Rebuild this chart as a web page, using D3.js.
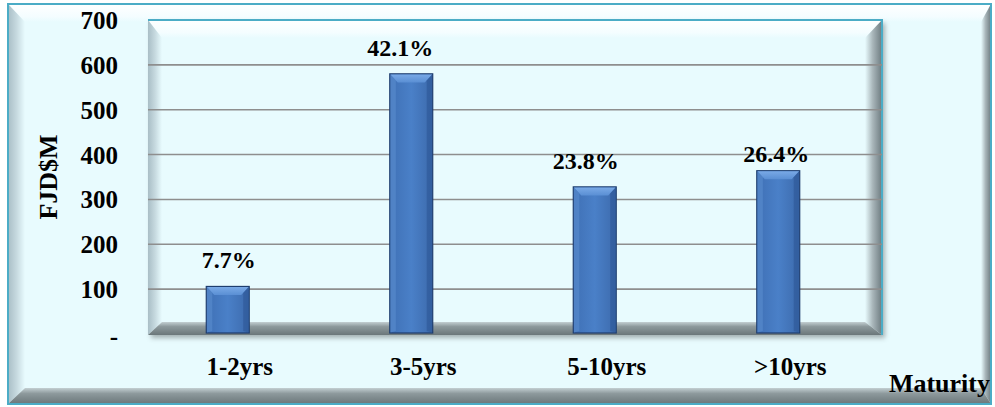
<!DOCTYPE html>
<html><head><meta charset="utf-8">
<script src="https://cdn.jsdelivr.net/npm/d3@7"></script>
<style>html,body{margin:0;padding:0;background:#fff;}svg{display:block;}</style>
</head><body>
<script>
const categories = ["1-2yrs", "3-5yrs", "5-10yrs", ">10yrs"];
const values = [106, 580, 328, 364];
const shares = ["7.7%", "42.1%", "23.8%", "26.4%"];
const yTicks = [0, 100, 200, 300, 400, 500, 600, 700];
const yTickLabels = ["-", "100", "200", "300", "400", "500", "600", "700"];
const yTitle = "FJD$M";
const xTitle = "Maturity";

const W = 995, H = 407;
const bg = "#e8fbfe", teal = "#4bacc6";
const svg = d3.select("body").append("svg").attr("width", W).attr("height", H);
const defs = svg.append("defs");

function lg(id, x1, y1, x2, y2, stops) {
  const g = defs.append("linearGradient").attr("id", id)
    .attr("x1", x1).attr("y1", y1).attr("x2", x2).attr("y2", y2);
  stops.forEach(s => g.append("stop").attr("offset", s[0]).attr("stop-color", s[1]));
}
lg("gTop", 0, 0, 0, 1, [[0, "#ffffff"], [0.7, "#f4fdff"], [1, bg]]);
lg("gLeft", 0, 0, 1, 0, [[0, "#a9bec6"], [0.5, "#c6d9df"], [1, bg]]);
lg("gRight", 0, 0, 1, 0, [[0, bg], [0.45, "#a9b6ba"], [1, "#6d7b80"]]);
lg("gBot", 0, 0, 0, 1, [[0, "#c3cfd2"], [0.35, "#8d999c"], [1, "#6b777a"]]);
lg("gBar", 0, 0, 1, 0, [[0, "#3f70b5"], [0.5, "#4a80c8"], [1, "#3c6aac"]]);
lg("gBarTop", 0, 0, 0, 1, [[0, "#79a9e6"], [1, "#5a8fd4"]]);
const f = defs.append("filter").attr("id", "sh").attr("x", "-5%").attr("y", "-5%").attr("width", "115%").attr("height", "120%");
f.append("feDropShadow").attr("dx", 3).attr("dy", 3).attr("stdDeviation", 2.5).attr("flood-color", "#000").attr("flood-opacity", 0.3);

function bevelBox(x0, y0, x1, y1, b) {
  const g = svg.append("g");
  g.append("rect").attr("x", x0).attr("y", y0).attr("width", x1 - x0).attr("height", y1 - y0).attr("fill", bg);
  const P = pts => pts.map(p => p.join(",")).join(" ");
  g.append("polygon").attr("points", P([[x0, y0], [x1, y0], [x1 - b.r, y0 + b.t], [x0 + b.l, y0 + b.t]])).attr("fill", "url(#gTop)");
  g.append("polygon").attr("points", P([[x0, y0], [x0 + b.l, y0 + b.t], [x0 + b.l, y1 - b.b], [x0, y1]])).attr("fill", "url(#gLeft)");
  g.append("polygon").attr("points", P([[x1, y0], [x1, y1], [x1 - b.r, y1 - b.b], [x1 - b.r, y0 + b.t]])).attr("fill", "url(#gRight)");
  g.append("polygon").attr("points", P([[x0, y1], [x0 + b.l, y1 - b.b], [x1 - b.r, y1 - b.b], [x1, y1]])).attr("fill", "url(#gBot)");
  return g;
}

// outer frame
bevelBox(8, 4, 991, 404, {t: 18, l: 17, r: 10, b: 16});
svg.append("rect").attr("x", 8).attr("y", 4).attr("width", 983).attr("height", 400)
  .attr("fill", "none").attr("stroke", teal).attr("stroke-width", 2);

// plot area
const PX0 = 148, PX1 = 882, PY0 = 20, PY1 = 335;
svg.append("rect").attr("x", PX0).attr("y", PY0).attr("width", PX1 - PX0).attr("height", PY1 - PY0)
  .attr("fill", bg).attr("filter", "url(#sh)");
bevelBox(PX0, PY0, PX1, PY1, {t: 18, l: 14, r: 17, b: 13});
svg.append("path").attr("d", `M${PX0},${PY0}H${PX1}V${PY1}`).attr("fill", "none").attr("stroke", teal).attr("stroke-width", 2);

const x = d3.scaleBand().domain(categories).range([PX0, PX1]).paddingInner(0.766).paddingOuter(0.383);
const y = d3.scaleLinear().domain([0, 700]).range([334, 20]);
const barShift = -12;

// gridlines
svg.append("g").selectAll("line").data(yTicks.filter(t => t > 0 && t < 700)).join("line")
  .attr("x1", PX0).attr("x2", PX1).attr("y1", d => y(d)).attr("y2", d => y(d))
  .attr("stroke", "#8e8e8e").attr("stroke-width", 1.6);

// y axis labels
const yAxis = d3.axisLeft(y).tickValues(yTicks).tickFormat((d, i) => yTickLabels[i]).tickSize(0).tickPadding(0);
const ya = svg.append("g").attr("transform", "translate(118,0)").call(yAxis);
ya.select(".domain").remove();
ya.selectAll("text").attr("font-family", "Liberation Serif").attr("font-weight", "bold")
  .attr("font-size", 25).attr("fill", "#000").attr("dy", "0.34em");
ya.selectAll(".tick").filter(d => d === 0).select("text").attr("dy", "0.42em");

// bars
const bars = svg.append("g").selectAll("g").data(values).join("g")
  .attr("transform", (d, i) => `translate(${x(categories[i]) + barShift},0)`);
const bw = x.bandwidth();
bars.append("rect").attr("x", 0).attr("y", d => y(d)).attr("width", bw).attr("height", d => 333 - y(d))
  .attr("fill", "url(#gBar)").attr("stroke", "#1e3d6e").attr("stroke-width", 1.2);
bars.append("polygon").attr("points", d => {
  const t = y(d) + 0.6, e = 8;
  return `0.6,${t} ${bw - 0.6},${t} ${bw - e},${t + e} ${e},${t + e}`;
}).attr("fill", "url(#gBarTop)");
bars.append("polygon").attr("points", d => {
  const t = y(d) + 0.6, e = 6;
  return `0.6,${t} ${e},${t + e} ${e},331 0.6,332.4`;
}).attr("fill", "#5c8fd2").attr("opacity", 0.55);
bars.append("polygon").attr("points", d => {
  const t = y(d) + 0.6, e = 6;
  return `${bw - 0.6},${t} ${bw - e},${t + e} ${bw - e},331 ${bw - 0.6},332.4`;
}).attr("fill", "#2d5796").attr("opacity", 0.6);

// data labels
const labelDx = [1, -11, -9, -2];
const labelDy = [0, 0, 0, 9];
svg.append("g").selectAll("text").data(values).join("text")
  .attr("x", (d, i) => x(categories[i]) + barShift + bw / 2 + labelDx[i])
  .attr("y", (d, i) => y(d) - 18 + labelDy[i])
  .attr("text-anchor", "middle").attr("font-family", "Liberation Serif").attr("font-weight", "bold")
  .attr("font-size", 24).attr("fill", "#000").text((d, i) => shares[i]);

// category labels
const xAxis = d3.axisBottom(x).tickSize(0).tickPadding(0);
const xa = svg.append("g").attr("transform", "translate(0,375)").call(xAxis);
xa.select(".domain").remove();
xa.selectAll("text").attr("font-family", "Liberation Serif").attr("font-weight", "bold")
  .attr("font-size", 25).attr("fill", "#000").attr("dy", 0);

// axis titles
svg.append("text").attr("transform", "translate(57,177) rotate(-90)").attr("text-anchor", "middle")
  .attr("font-family", "Liberation Serif").attr("font-weight", "bold").attr("font-size", 26).attr("fill", "#000").text(yTitle);
svg.append("text").attr("x", 990).attr("y", 392).attr("text-anchor", "end")
  .attr("font-family", "Liberation Serif").attr("font-weight", "bold").attr("font-size", 26).attr("fill", "#000").text(xTitle);
</script>
</body></html>
